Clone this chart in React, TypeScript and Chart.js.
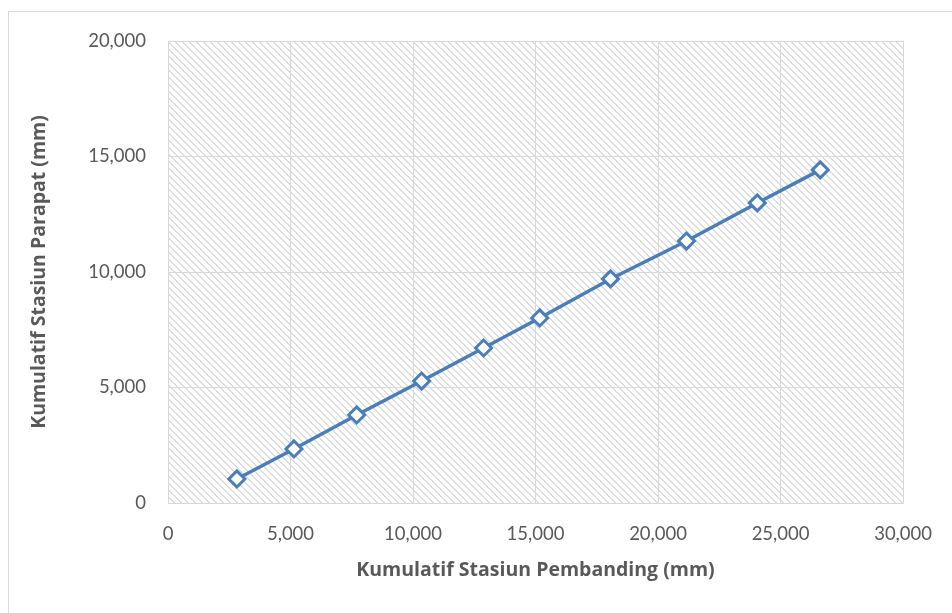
import React, { useEffect, useRef } from "react";
import { Chart, registerables } from "chart.js";

Chart.register(...registerables);

const pembanding = [2810, 5140, 7700, 10350, 12880, 15170, 18060, 21160, 24050, 26620];
const parapat = [1040, 2340, 3810, 5280, 6710, 8010, 9700, 11340, 12990, 14420];
const xTitle = "Kumulatif Stasiun Pembanding (mm)";
const yTitle = "Kumulatif Stasiun Parapat (mm)";

const FONT = "Lato, 'Noto Sans', sans-serif";
const TFONT = "'Open Sans', Lato, sans-serif";
const BLUE = "#4a7ebb";
const GRID = "#d9d9d9";
const TEXT = "#595959";

function makePattern(ctx: CanvasRenderingContext2D) {
  const c = document.createElement("canvas");
  const s = 7;
  c.width = s;
  c.height = s;
  const p = c.getContext("2d")!;
  p.fillStyle = "#ffffff";
  p.fillRect(0, 0, s, s);
  p.fillStyle = "#dddddd";
  for (let i = 0; i < s; i++) {
    p.fillRect(i, i, 1, 1);
    p.fillRect((i + 1) % s, i, 1, 1);
  }
  return ctx.createPattern(c, "repeat");
}

const hatchPlugin = {
  id: "hatch",
  beforeDraw(chart: any) {
    const { ctx, chartArea } = chart;
    if (!chartArea) return;
    const pat = makePattern(ctx);
    ctx.save();
    ctx.fillStyle = pat;
    ctx.fillRect(chartArea.left, chartArea.top, chartArea.right - chartArea.left, chartArea.bottom - chartArea.top);
    ctx.restore();
  },
};

export default function App() {
  const ref = useRef<HTMLCanvasElement>(null);
  useEffect(() => {
    const canvas = ref.current!;
    const chart = new Chart(canvas, {
      type: "line",
      data: {
        datasets: [
          {
            data: pembanding.map((x, i) => ({ x, y: parapat[i] })),
            borderColor: BLUE,
            borderWidth: 3.5,
            backgroundColor: "#ffffff",
            pointStyle: "rectRot",
            pointRadius: 8,
            pointBorderWidth: 3,
            pointBorderColor: BLUE,
            pointBackgroundColor: "#ffffff",
            tension: 0,
          },
        ],
      },
      options: {
        responsive: false,
        animation: false,
        layout: { padding: { left: 24, top: 41, right: 48, bottom: 27 } },
        plugins: { legend: { display: false }, tooltip: { enabled: false } },
        scales: {
          x: {
            type: "linear",
            min: 0,
            max: 30000,
            afterFit(scale: any) {
              scale.height = 83;
            },
            ticks: {
              stepSize: 5000,
              padding: 20,
              color: TEXT,
              font: { family: FONT, size: 18.5 },
              maxRotation: 0,
              callback: (v: any) => Number(v).toLocaleString("en-US"),
            },
            grid: { color: GRID, lineWidth: 1, drawTicks: false },
            border: { display: true, color: GRID },
            title: {
              display: true,
              text: xTitle,
              color: TEXT,
              font: { family: TFONT, size: 19.5, weight: "bold" },
            },
          },
          y: {
            type: "linear",
            min: 0,
            max: 20000,
            afterFit(scale: any) {
              scale.width = 144;
            },
            ticks: {
              stepSize: 5000,
              padding: 22,
              color: TEXT,
              font: { family: FONT, size: 18.5 },
              callback: (v: any) => Number(v).toLocaleString("en-US"),
            },
            grid: { color: GRID, lineWidth: 1, drawTicks: false },
            border: { display: true, color: GRID },
            title: {
              display: true,
              text: yTitle,
              color: TEXT,
              font: { family: TFONT, size: 19.5, weight: "bold" },
            },
          },
        },
      },
      plugins: [hatchPlugin],
    } as any);
    return () => chart.destroy();
  }, []);
  return (
    <div style={{ position: "fixed", left: 0, top: 0, width: 952, height: 613, overflow: "hidden", background: "#fff" }}>
      <div style={{ position: "absolute", left: 8, top: 11, width: 980, height: 640, border: "1px solid #d9d9d9" }} />
      <canvas ref={ref} width={952} height={613} style={{ position: "absolute", left: 0, top: 0, width: 952, height: 613 }} />
    </div>
  );
}
